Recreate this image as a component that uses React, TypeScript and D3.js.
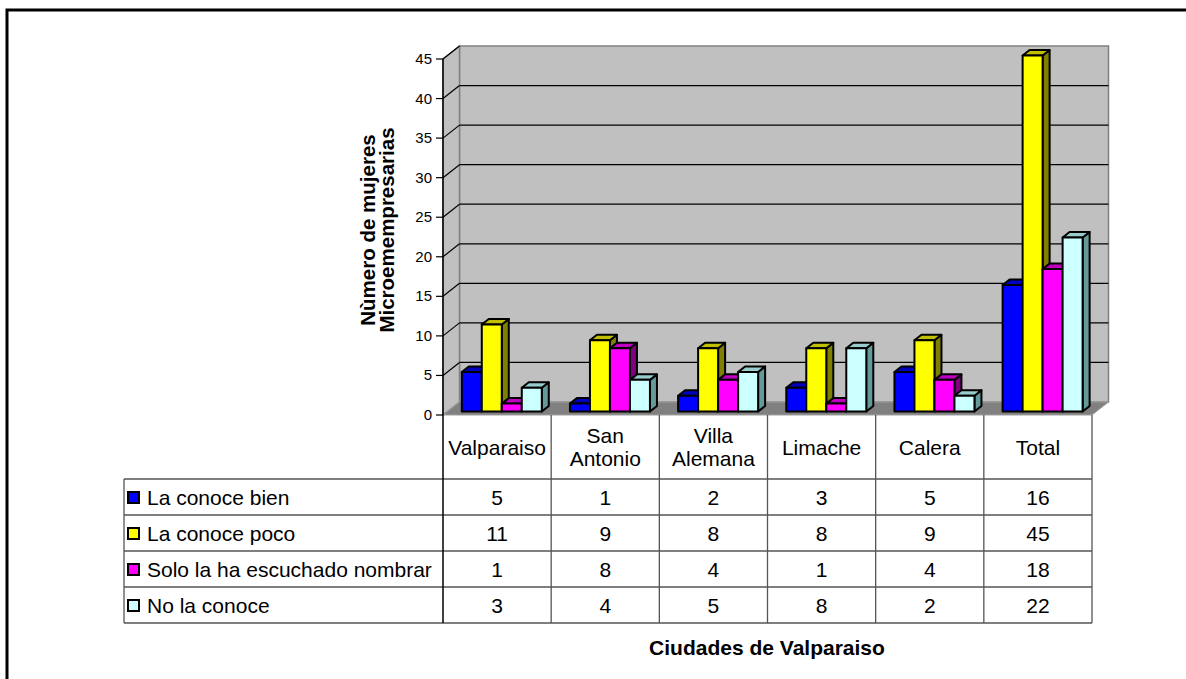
import React from 'react';
import * as d3 from 'd3';

const categories = ['Valparaiso', 'San Antonio', 'Villa Alemana', 'Limache', 'Calera', 'Total'];
const categoryLines = [['Valparaiso'], ['San', 'Antonio'], ['Villa', 'Alemana'], ['Limache'], ['Calera'], ['Total']];
const seriesNames = ['La conoce bien', 'La conoce poco', 'Solo la ha escuchado nombrar', 'No la conoce'];
const conoceBien = [5, 1, 2, 3, 5, 16];
const conocePoco = [11, 9, 8, 8, 9, 45];
const soloEscuchado = [1, 8, 4, 1, 4, 18];
const noConoce = [3, 4, 5, 8, 2, 22];
const yTicks = [0, 5, 10, 15, 20, 25, 30, 35, 40, 45];
const yTitle = ['Nùmero de mujeres', 'Microemempresarias'];

const seriesValues = [conoceBien, conocePoco, soloEscuchado, noConoce];
const front = ['#0000ff', '#ffff00', '#ff00ff', '#ccffff'];
const topFace = ['#0000c0', '#c0c000', '#c000c0', '#99cccc'];
const sideFace = ['#000080', '#808000', '#800080', '#669999'];

const FONT = '"Liberation Sans", Arial, sans-serif';

const App = () => {
  const x = d3.scaleBand().domain(categories).range([443, 1092]).paddingInner(0);
  const y = d3.scaleLinear().domain([0, 45]).range([415, 59]);
  const bw = x.bandwidth();

  // wall depth
  const dx = 16.5, dy = -13;
  // bars sit a bit behind the front plane
  const barShiftX = 4.7, barShiftY = -3.5;
  const barW = 20, bdx = 7, bdy = -5.5;

  const rowTop = 479, rowH = 36;
  const tableRight = x.range()[1];
  const left = x.range()[0];

  const pts = (p: number[][]) => p.map(q => q.join(',')).join(' ');

  return (
    <svg width={1186} height={679} style={{ position: 'absolute', left: 0, top: 0, background: '#fff' }} fontFamily={FONT}>
      {/* outer frame */}
      <path d="M7,679 V10 H1186" fill="none" stroke="#000" strokeWidth={3} />

      {/* back wall */}
      <rect x={left + dx} y={y(45) + dy} width={tableRight - left} height={y(0) - y(45)} fill="#c0c0c0" stroke="#808080" strokeWidth={1.5} />
      {/* left wall */}
      <polygon points={pts([[left, y(45)], [left + dx, y(45) + dy], [left + dx, y(0) + dy], [left, y(0)]])} fill="#c0c0c0" stroke="#808080" strokeWidth={1.5} />
      {/* floor */}
      <polygon points={pts([[left, y(0)], [tableRight, y(0)], [tableRight + dx, y(0) + dy], [left + dx, y(0) + dy]])} fill="#808080" stroke="#a0a0a0" strokeWidth={1} />

      {/* gridlines */}
      {yTicks.filter(t => t > 0 && t < 45).map(t => (
        <line key={t} x1={left + dx} x2={tableRight + dx} y1={y(t) + dy} y2={y(t) + dy} stroke="#000" strokeWidth={1.2} />
      ))}
      {yTicks.filter(t => t > 0).map(t => (
        <line key={t} x1={left} x2={left + dx} y1={y(t)} y2={y(t) + dy} stroke="#000" strokeWidth={1.2} />
      ))}

      {/* bars */}
      {categories.map((c, ci) => (
        <g key={c}>
          {seriesValues.map((vals, si) => {
            const x0 = (x(c) as number) + (bw - 4 * barW) / 2 + barShiftX + si * barW;
            const x1 = x0 + barW;
            const yb = y(0) + barShiftY;
            const yt = y(vals[ci]) + barShiftY;
            return (
              <g key={si} stroke="#000" strokeWidth={2} strokeLinejoin="round">
                <polygon points={pts([[x1, yt], [x1 + bdx, yt + bdy], [x1 + bdx, yb + bdy], [x1, yb]])} fill={sideFace[si]} />
                <polygon points={pts([[x0, yt], [x1, yt], [x1 + bdx, yt + bdy], [x0 + bdx, yt + bdy]])} fill={topFace[si]} />
                <rect x={x0} y={yt} width={barW} height={yb - yt} fill={front[si]} />
              </g>
            );
          })}
        </g>
      ))}

      {/* y axis */}
      <line x1={left} x2={left} y1={y(45)} y2={y(0)} stroke="#000" strokeWidth={1.5} />
      {yTicks.map(t => (
        <g key={t}>
          <line x1={left - 7} x2={left} y1={y(t)} y2={y(t)} stroke="#000" strokeWidth={1.2} />
          <text x={left - 11} y={y(t) + 5} textAnchor="end" fontSize={15}>{t}</text>
        </g>
      ))}

      {/* y title */}
      <g transform="translate(0,230) rotate(-90)" fontWeight="bold" fontSize={20.5} textAnchor="middle">
        <text x={0} y={375}>{yTitle[0]}</text>
        <text x={0} y={394}>{yTitle[1]}</text>
      </g>

      {/* data table */}
      <g stroke="#555" strokeWidth={1.3}>
        {categories.map(c => (
          <line key={c} x1={(x(c) as number) + bw} x2={(x(c) as number) + bw} y1={y(0)} y2={rowTop + 4 * rowH} />
        ))}
        {[0, 1, 2, 3, 4].map(r => (
          <line key={r} x1={124} x2={tableRight} y1={rowTop + r * rowH} y2={rowTop + r * rowH} />
        ))}
        <line x1={124} x2={124} y1={rowTop} y2={rowTop + 4 * rowH} />
      </g>
      <line x1={left} x2={left} y1={y(0)} y2={rowTop + 4 * rowH} stroke="#000" strokeWidth={1.5} />

      {categoryLines.map((lines, ci) => (
        <text key={ci} x={(x(categories[ci]) as number) + bw / 2} fontSize={21} textAnchor="middle">
          {lines.map((l, li) => (
            <tspan key={li} x={(x(categories[ci]) as number) + bw / 2} y={454.5 + (li - (lines.length - 1) / 2) * 23}>{l}</tspan>
          ))}
        </text>
      ))}

      {seriesNames.map((s, si) => {
        const cy = rowTop + si * rowH + rowH / 2;
        return (
          <g key={s}>
            <rect x={128} y={cy - 5} width={11} height={11} fill={front[si]} stroke="#000" strokeWidth={2} />
            <text x={147} y={cy + 7.5} fontSize={21}>{s}</text>
            {categories.map((c, ci) => (
              <text key={c} x={(x(c) as number) + bw / 2} y={cy + 7.5} fontSize={21} textAnchor="middle">{seriesValues[si][ci]}</text>
            ))}
          </g>
        );
      })}

      {/* x title */}
      <text x={767} y={655} fontSize={21} fontWeight="bold" textAnchor="middle">Ciudades de Valparaiso</text>
    </svg>
  );
};

export default App;
